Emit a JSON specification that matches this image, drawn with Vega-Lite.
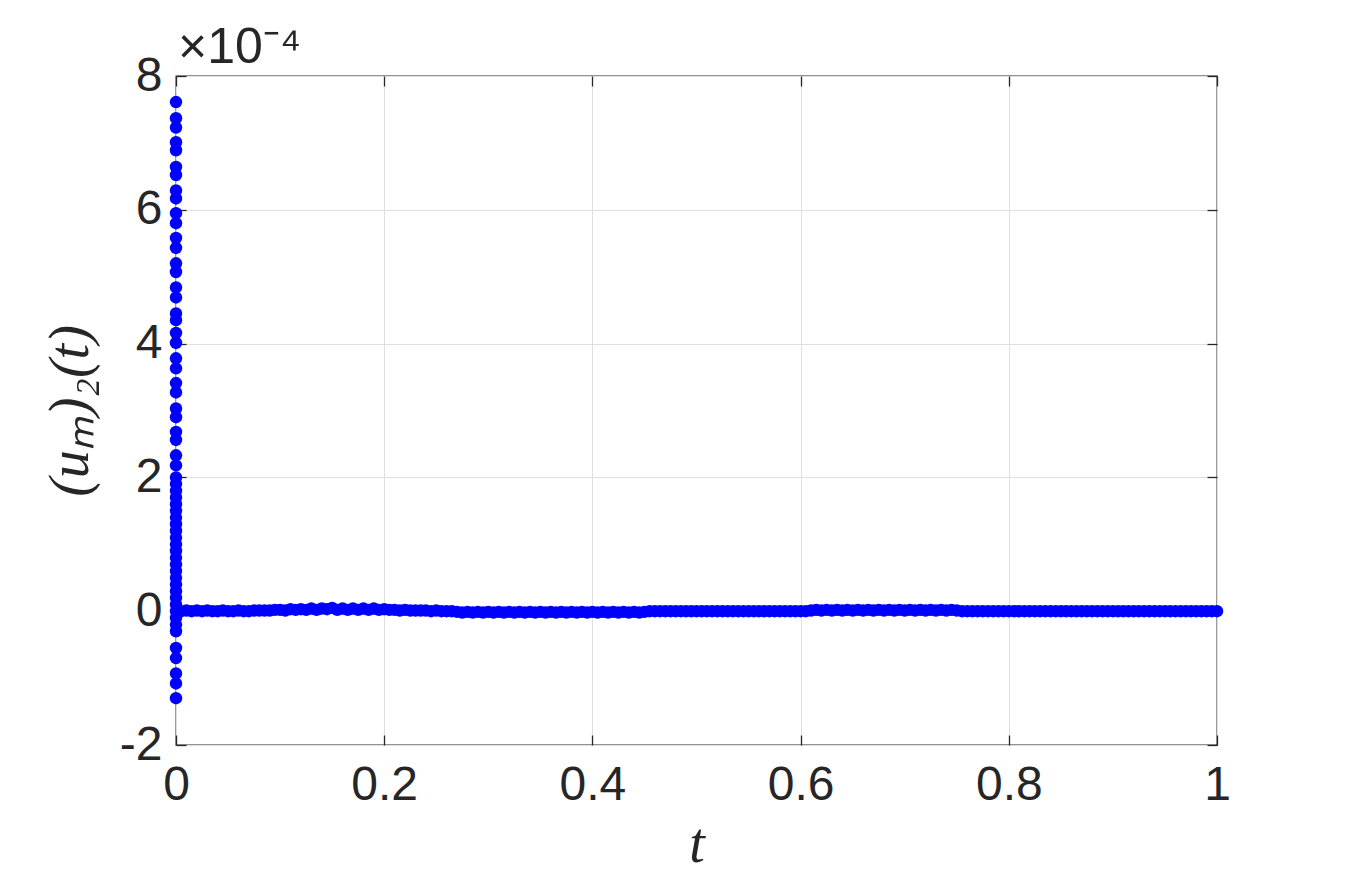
{
  "$schema": "https://vega.github.io/schema/vega-lite/v6.json",
  "width": 1041,
  "height": 669,
  "autosize": {"type": "none"},
  "padding": {"left": 176, "top": 76, "right": 129, "bottom": 141},
  "background": "white",
  "config": {
    "view": {"stroke": "#262626", "strokeWidth": 1.3},
    "font": "Liberation Sans",
    "axis": {
      "domain": false,
      "grid": true,
      "gridColor": "#dfdfdf",
      "gridWidth": 1,
      "tickColor": "#262626",
      "tickSize": -10,
      "tickWidth": 1.3,
      "labelFont": "Liberation Sans",
      "labelFontSize": 48,
      "labelColor": "#262626",
      "titleFont": "Liberation Serif",
      "titleFontStyle": "italic",
      "titleFontWeight": "normal",
      "titleFontSize": 56,
      "titleColor": "#262626"
    }
  },
  "title": {
    "text": "×10⁻⁴",
    "anchor": "start",
    "frame": "group",
    "font": "Liberation Sans",
    "fontSize": 50,
    "fontWeight": "normal",
    "color": "#262626",
    "offset": 10,
    "dy": 31,
    "dx": 2
  },
  "data": {
    "values": [
      {"t": 0, "u": 0.000761}, {"t": 0, "u": 0.000737}, {"t": 0, "u": 0.000723}, {"t": 0, "u": 0.000701}, {"t": 0, "u": 0.000689},
      {"t": 0, "u": 0.000664}, {"t": 0, "u": 0.000652}, {"t": 0, "u": 0.000629}, {"t": 0, "u": 0.000617}, {"t": 0, "u": 0.000595},
      {"t": 0, "u": 0.000580}, {"t": 0, "u": 0.000558}, {"t": 0, "u": 0.000543}, {"t": 0, "u": 0.000520}, {"t": 0, "u": 0.000507},
      {"t": 0, "u": 0.000484}, {"t": 0, "u": 0.000469}, {"t": 0, "u": 0.000445}, {"t": 0, "u": 0.000435}, {"t": 0, "u": 0.000416},
      {"t": 0, "u": 0.000401}, {"t": 0, "u": 0.000378}, {"t": 0, "u": 0.000363}, {"t": 0, "u": 0.000341}, {"t": 0, "u": 0.000327},
      {"t": 0, "u": 0.000303}, {"t": 0, "u": 0.000290}, {"t": 0, "u": 0.000268}, {"t": 0, "u": 0.000256}, {"t": 0, "u": 0.000233},
      {"t": 0, "u": 0.000218}, {"t": 0, "u": 0.000200}, {"t": 0, "u": 0.000190}, {"t": 0, "u": 0.000180}, {"t": 0, "u": 0.000170},
      {"t": 0, "u": 0.000160}, {"t": 0, "u": 0.000150}, {"t": 0, "u": 0.000140}, {"t": 0, "u": 0.000130}, {"t": 0, "u": 0.000120},
      {"t": 0, "u": 0.000110}, {"t": 0, "u": 0.000100}, {"t": 0, "u": 0.000090}, {"t": 0, "u": 0.000080}, {"t": 0, "u": 0.000070},
      {"t": 0, "u": 0.000060}, {"t": 0, "u": 0.000050}, {"t": 0, "u": 0.000040}, {"t": 0, "u": 0.000030}, {"t": 0, "u": 0.000020},
      {"t": 0, "u": 0.000010}, {"t": 0, "u": 0.000000}, {"t": 0, "u": -0.000010}, {"t": 0, "u": -0.000020}, {"t": 0, "u": -0.000030},
      {"t": 0, "u": -0.000055}, {"t": 0, "u": -0.000070}, {"t": 0, "u": -0.000093}, {"t": 0, "u": -0.000108}, {"t": 0, "u": -0.000130},
      {"t": 0.005, "u": 0}, {"t": 0.01, "u": 0.000001}, {"t": 0.015, "u": 0}, {"t": 0.02, "u": 0.000001}, {"t": 0.025, "u": 0},
      {"t": 0.03, "u": 0.000001}, {"t": 0.035, "u": 0}, {"t": 0.04, "u": 0}, {"t": 0.045, "u": 0.000001}, {"t": 0.05, "u": 0},
      {"t": 0.055, "u": 0}, {"t": 0.06, "u": 0.000001}, {"t": 0.065, "u": 0}, {"t": 0.07, "u": 0}, {"t": 0.075, "u": 0.000001},
      {"t": 0.08, "u": 0.000001}, {"t": 0.085, "u": 0.000001}, {"t": 0.09, "u": 0.000001}, {"t": 0.095, "u": 0.000002}, {"t": 0.1, "u": 0.000002},
      {"t": 0.105, "u": 0.000001}, {"t": 0.11, "u": 0.000003}, {"t": 0.115, "u": 0.000002}, {"t": 0.12, "u": 0.000003}, {"t": 0.125, "u": 0.000002},
      {"t": 0.13, "u": 0.000004}, {"t": 0.135, "u": 0.000002}, {"t": 0.14, "u": 0.000004}, {"t": 0.145, "u": 0.000003}, {"t": 0.15, "u": 0.000005},
      {"t": 0.155, "u": 0.000002}, {"t": 0.16, "u": 0.000004}, {"t": 0.165, "u": 0.000002}, {"t": 0.17, "u": 0.000004}, {"t": 0.175, "u": 0.000002},
      {"t": 0.18, "u": 0.000004}, {"t": 0.185, "u": 0.000002}, {"t": 0.19, "u": 0.000004}, {"t": 0.195, "u": 0.000002}, {"t": 0.2, "u": 0.000003},
      {"t": 0.205, "u": 0.000002}, {"t": 0.21, "u": 0.000002}, {"t": 0.215, "u": 0.000001}, {"t": 0.22, "u": 0.000002}, {"t": 0.225, "u": 0.000001},
      {"t": 0.23, "u": 0.000001}, {"t": 0.235, "u": 0.000001}, {"t": 0.24, "u": 0.000001}, {"t": 0.245, "u": 0}, {"t": 0.25, "u": 0.000001},
      {"t": 0.255, "u": 0}, {"t": 0.26, "u": 0}, {"t": 0.265, "u": 0}, {"t": 0.27, "u": -0.000001}, {"t": 0.275, "u": -0.000002},
      {"t": 0.28, "u": -0.000001}, {"t": 0.285, "u": -0.000002}, {"t": 0.29, "u": -0.000001}, {"t": 0.295, "u": -0.000002}, {"t": 0.3, "u": -0.000001},
      {"t": 0.305, "u": -0.000002}, {"t": 0.31, "u": -0.000001}, {"t": 0.315, "u": -0.000002}, {"t": 0.32, "u": -0.000001}, {"t": 0.325, "u": -0.000002},
      {"t": 0.33, "u": -0.000001}, {"t": 0.335, "u": -0.000002}, {"t": 0.34, "u": -0.000001}, {"t": 0.345, "u": -0.000002}, {"t": 0.35, "u": -0.000001},
      {"t": 0.355, "u": -0.000002}, {"t": 0.36, "u": -0.000001}, {"t": 0.365, "u": -0.000002}, {"t": 0.37, "u": -0.000001}, {"t": 0.375, "u": -0.000002},
      {"t": 0.38, "u": -0.000001}, {"t": 0.385, "u": -0.000002}, {"t": 0.39, "u": -0.000001}, {"t": 0.395, "u": -0.000002}, {"t": 0.4, "u": -0.000001},
      {"t": 0.405, "u": -0.000002}, {"t": 0.41, "u": -0.000001}, {"t": 0.415, "u": -0.000002}, {"t": 0.42, "u": -0.000001}, {"t": 0.425, "u": -0.000002},
      {"t": 0.43, "u": -0.000001}, {"t": 0.435, "u": -0.000002}, {"t": 0.44, "u": -0.000001}, {"t": 0.445, "u": -0.000002}, {"t": 0.45, "u": -0.000001},
      {"t": 0.455, "u": 0}, {"t": 0.46, "u": 0}, {"t": 0.465, "u": 0}, {"t": 0.47, "u": 0}, {"t": 0.475, "u": 0},
      {"t": 0.48, "u": 0}, {"t": 0.485, "u": 0}, {"t": 0.49, "u": 0}, {"t": 0.495, "u": 0}, {"t": 0.5, "u": 0},
      {"t": 0.505, "u": 0}, {"t": 0.51, "u": 0}, {"t": 0.515, "u": 0}, {"t": 0.52, "u": 0}, {"t": 0.525, "u": 0},
      {"t": 0.53, "u": 0}, {"t": 0.535, "u": 0}, {"t": 0.54, "u": 0}, {"t": 0.545, "u": 0}, {"t": 0.55, "u": 0},
      {"t": 0.555, "u": 0}, {"t": 0.56, "u": 0}, {"t": 0.565, "u": 0}, {"t": 0.57, "u": 0}, {"t": 0.575, "u": 0},
      {"t": 0.58, "u": 0}, {"t": 0.585, "u": 0}, {"t": 0.59, "u": 0}, {"t": 0.595, "u": 0}, {"t": 0.6, "u": 0},
      {"t": 0.605, "u": 0}, {"t": 0.61, "u": 0.000001}, {"t": 0.615, "u": 0.000002}, {"t": 0.62, "u": 0.000001}, {"t": 0.625, "u": 0.000002},
      {"t": 0.63, "u": 0.000001}, {"t": 0.635, "u": 0.000002}, {"t": 0.64, "u": 0.000001}, {"t": 0.645, "u": 0.000002}, {"t": 0.65, "u": 0.000001},
      {"t": 0.655, "u": 0.000002}, {"t": 0.66, "u": 0.000001}, {"t": 0.665, "u": 0.000002}, {"t": 0.67, "u": 0.000001}, {"t": 0.675, "u": 0.000002},
      {"t": 0.68, "u": 0.000001}, {"t": 0.685, "u": 0.000002}, {"t": 0.69, "u": 0.000001}, {"t": 0.695, "u": 0.000002}, {"t": 0.7, "u": 0.000001},
      {"t": 0.705, "u": 0.000002}, {"t": 0.71, "u": 0.000001}, {"t": 0.715, "u": 0.000002}, {"t": 0.72, "u": 0.000001}, {"t": 0.725, "u": 0.000002},
      {"t": 0.73, "u": 0.000001}, {"t": 0.735, "u": 0.000002}, {"t": 0.74, "u": 0.000001}, {"t": 0.745, "u": 0.000002}, {"t": 0.75, "u": 0.000001},
      {"t": 0.755, "u": 0}, {"t": 0.76, "u": 0}, {"t": 0.765, "u": 0}, {"t": 0.77, "u": 0}, {"t": 0.775, "u": 0},
      {"t": 0.78, "u": 0}, {"t": 0.785, "u": 0}, {"t": 0.79, "u": 0}, {"t": 0.795, "u": 0}, {"t": 0.8, "u": 0},
      {"t": 0.805, "u": 0}, {"t": 0.81, "u": 0}, {"t": 0.815, "u": 0}, {"t": 0.82, "u": 0}, {"t": 0.825, "u": 0},
      {"t": 0.83, "u": 0}, {"t": 0.835, "u": 0}, {"t": 0.84, "u": 0}, {"t": 0.845, "u": 0}, {"t": 0.85, "u": 0},
      {"t": 0.855, "u": 0}, {"t": 0.86, "u": 0}, {"t": 0.865, "u": 0}, {"t": 0.87, "u": 0}, {"t": 0.875, "u": 0},
      {"t": 0.88, "u": 0}, {"t": 0.885, "u": 0}, {"t": 0.89, "u": 0}, {"t": 0.895, "u": 0}, {"t": 0.9, "u": 0},
      {"t": 0.905, "u": 0}, {"t": 0.91, "u": 0}, {"t": 0.915, "u": 0}, {"t": 0.92, "u": 0}, {"t": 0.925, "u": 0},
      {"t": 0.93, "u": 0}, {"t": 0.935, "u": 0}, {"t": 0.94, "u": 0}, {"t": 0.945, "u": 0}, {"t": 0.95, "u": 0},
      {"t": 0.955, "u": 0}, {"t": 0.96, "u": 0}, {"t": 0.965, "u": 0}, {"t": 0.97, "u": 0}, {"t": 0.975, "u": 0},
      {"t": 0.98, "u": 0}, {"t": 0.985, "u": 0}, {"t": 0.99, "u": 0}, {"t": 0.995, "u": 0}, {"t": 1.0, "u": 0}
    ]
  },
  "layer": [
    {
      "mark": {"type": "point", "filled": true, "size": 155, "color": "#0000ff", "opacity": 1, "strokeWidth": 0},
      "encoding": {
        "x": {
          "field": "t", "type": "quantitative",
          "scale": {"domain": [0, 1], "nice": false, "zero": false},
          "axis": {"orient": "bottom", "values": [0, 0.2, 0.4, 0.6, 0.8, 1], "labelExpr": "datum.value == 0 || datum.value == 1 ? format(datum.value, 'd') : format(datum.value, '.1f')", "labelPadding": 26, "title": "t", "titlePadding": 8, "labelFlush": false}
        },
        "y": {
          "field": "u", "type": "quantitative",
          "scale": {"domain": [-0.0002, 0.0008], "nice": false, "zero": false},
          "axis": {"orient": "left", "values": [-0.0002, 0, 0.0002, 0.0004, 0.0006, 0.0008], "labelExpr": "toString(round(datum.value * 10000))", "labelPadding": 24, "title": "(uₘ)₂(t)", "titlePadding": 20, "labelFlush": false}
        }
      }
    },
    {
      "mark": {"type": "point", "opacity": 0},
      "encoding": {
        "x": {"field": "t", "type": "quantitative", "axis": {"orient": "top", "labels": false, "grid": false, "title": null, "values": [0, 0.2, 0.4, 0.6, 0.8, 1]}},
        "y": {"field": "u", "type": "quantitative", "axis": {"orient": "right", "labels": false, "grid": false, "title": null, "values": [-0.0002, 0, 0.0002, 0.0004, 0.0006, 0.0008]}}
      }
    }
  ],
  "resolve": {"axis": {"x": "independent", "y": "independent"}}
}
